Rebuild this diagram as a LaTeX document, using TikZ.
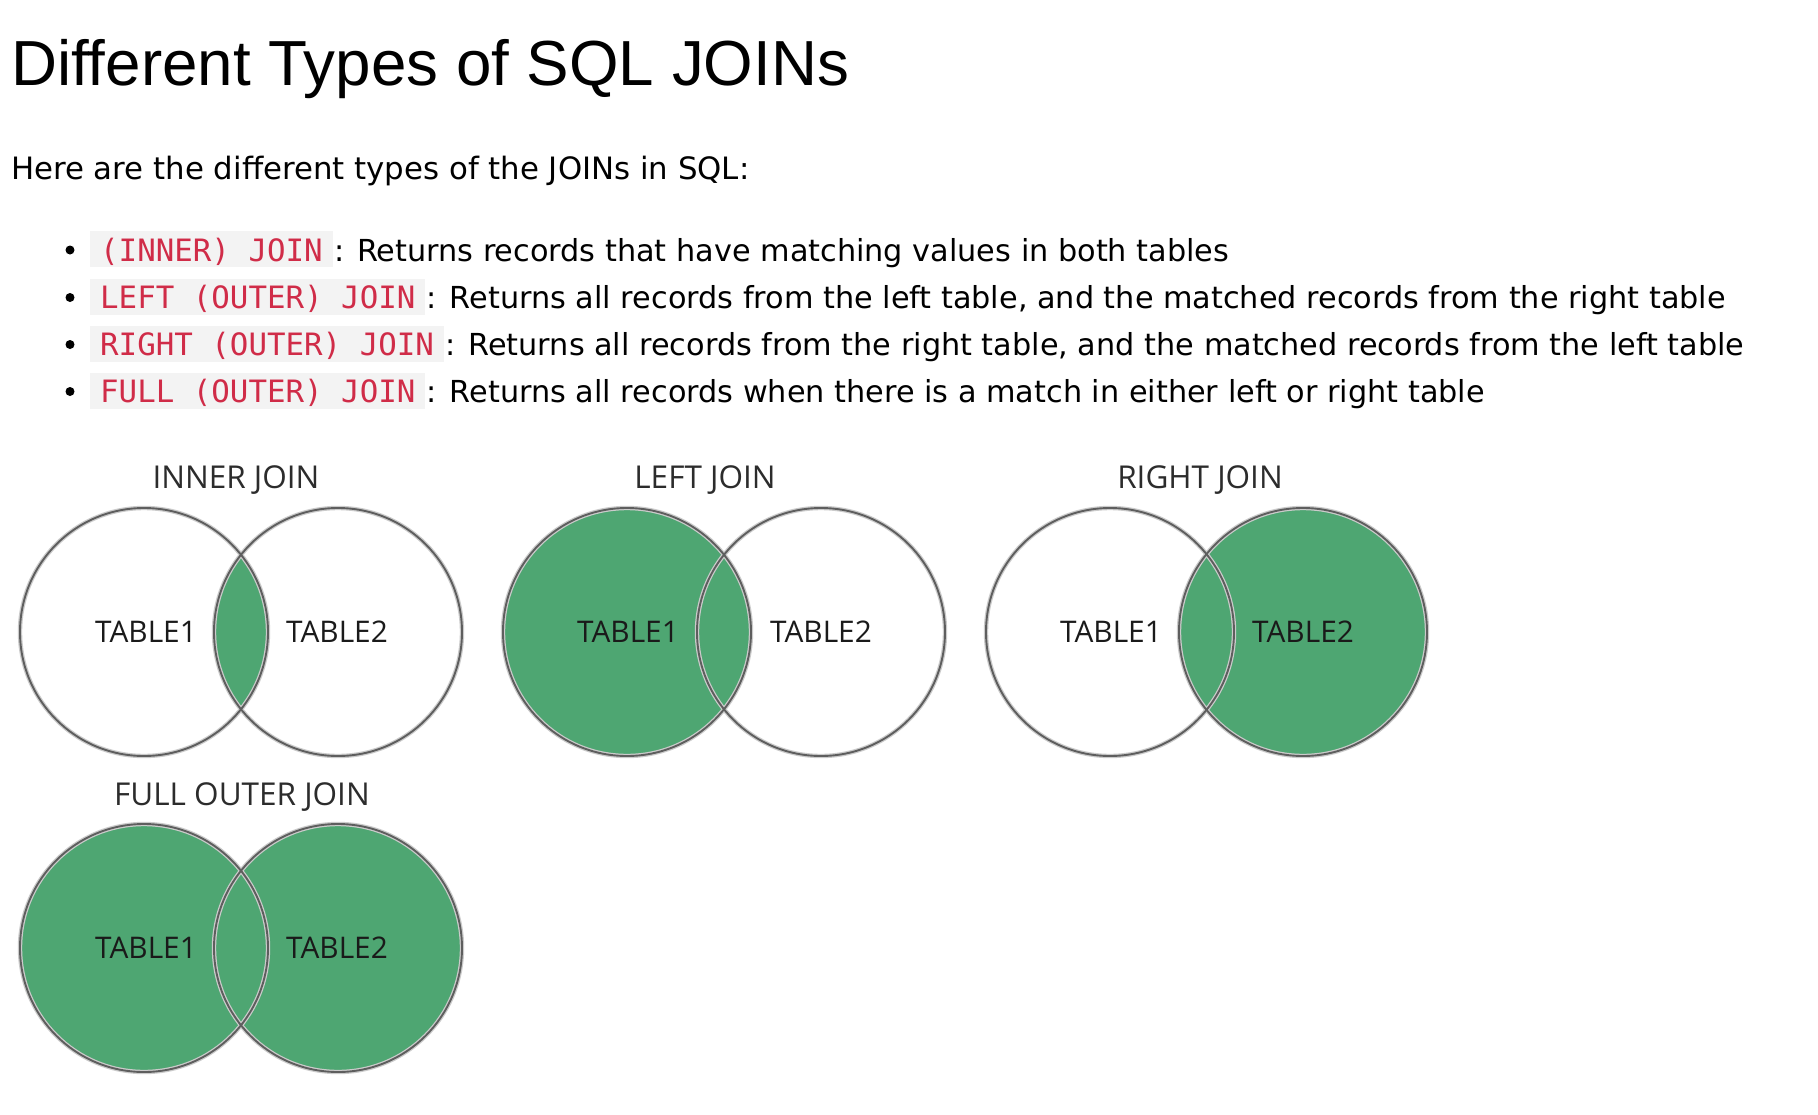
\documentclass[tikz,border=0pt]{standalone}
\usepackage{fontspec}
\setmainfont{DejaVu Sans}
\newfontfamily\titlefont{Liberation Sans}
\newfontfamily\codefont{DejaVu Sans Mono}
\newfontfamily\vennfont{Open Sans}
\definecolor{joingreen}{HTML}{4EA672}
\definecolor{codered}{HTML}{D02C48}
\definecolor{codebg}{HTML}{F3F3F3}
\definecolor{ringgray}{HTML}{5E5E5E}
\definecolor{halogray}{HTML}{CBCBCB}
\definecolor{venntext}{HTML}{1A1A1A}
\tikzset{
  codebox/.style={fill=codebg, text=codered, anchor=west, inner xsep=10pt, inner ysep=3pt,
    text height=27pt, text depth=3pt, font=\codefont\fontsize{30.8pt}{36pt}\selectfont},
  desc/.style={anchor=base west, inner sep=0pt, text=black, font=\fontsize{30.3pt}{36pt}\selectfont},
  bulletdot/.style={circle, fill=black, inner sep=0pt, minimum size=9pt},
  venntitle/.style={anchor=base, inner sep=0pt, text=venntext!92!white, font=\vennfont\fontsize{31.5pt}{36pt}\selectfont},
  tablelabel/.style={anchor=base, inner sep=0pt, text=venntext, font=\vennfont\fontsize{29.8pt}{36pt}\selectfont},
  halo/.style={draw=halogray, line width=4.4pt},
  ring/.style={draw=ringgray, line width=1.9pt},
}
\newcommand{\vennrings}[2]{%
  \draw[halo] (#1) circle (124);
  \draw[halo] (#2) circle (124);
  \draw[ring] (#1) circle (124);
  \draw[ring] (#2) circle (124);
}
\begin{document}
\begin{tikzpicture}[x=1pt, y=-1pt]
\useasboundingbox[fill=white] (0,0) rectangle (1818,1114);

% heading
\node[anchor=base west, inner sep=0pt, font=\titlefont\fontsize{63.7pt}{70pt}\selectfont] (title) at (11,85) {Different Types of SQL JOINs};
\node[desc, font=\fontsize{30.8pt}{36pt}\selectfont] (intro) at (11,179) {Here are the different types of the JOINs in SQL:};

% bullet list
\node[bulletdot] (b1) at (70,250) {};
\node[codebox] (c1) at (90,249) {(INNER) JOIN};
\node[desc] (t1) at ([xshift=1pt]c1.base east) {: Returns records that have matching values in both tables};

\node[bulletdot] (b2) at (70,297.5) {};
\node[codebox] (c2) at (90,296.5) {LEFT (OUTER) JOIN};
\node[desc] (t2) at ([xshift=1pt]c2.base east) {: Returns all records from the left table, and the matched records from the right table};

\node[bulletdot] (b3) at (70,344.5) {};
\node[codebox] (c3) at (90,343.5) {RIGHT (OUTER) JOIN};
\node[desc] (t3) at ([xshift=1pt]c3.base east) {: Returns all records from the right table, and the matched records from the left table};

\node[bulletdot] (b4) at (70,391.5) {};
\node[codebox] (c4) at (90,390.5) {FULL (OUTER) JOIN};
\node[desc] (t4) at ([xshift=1pt]c4.base east) {: Returns all records when there is a match in either left or right table};

% circle centres
\coordinate (i1) at (144,632);  \coordinate (i2) at (338,632);
\coordinate (l1) at (627,632);  \coordinate (l2) at (821,632);
\coordinate (r1) at (1110,632); \coordinate (r2) at (1303,632);
\coordinate (f1) at (144,948);  \coordinate (f2) at (338,948);

% INNER JOIN
\begin{scope}
  \clip (i1) circle (124);
  \fill[joingreen] (i2) circle (124);
\end{scope}
\vennrings{i1}{i2}
\node[venntitle] (ti) at (236,488) {INNER JOIN};
\node[tablelabel] (i1t) at (146,642) {TABLE1};
\node[tablelabel] (i2t) at (337,642) {TABLE2};

% LEFT JOIN
\fill[joingreen] (l1) circle (124);
\vennrings{l1}{l2}
\node[venntitle] (tl) at (705,488) {LEFT JOIN};
\node[tablelabel] (l1t) at (628,642) {TABLE1};
\node[tablelabel] (l2t) at (821,642) {TABLE2};

% RIGHT JOIN
\fill[joingreen] (r2) circle (124);
\vennrings{r1}{r2}
\node[venntitle] (tr) at (1200,488) {RIGHT JOIN};
\node[tablelabel] (r1t) at (1111,642) {TABLE1};
\node[tablelabel] (r2t) at (1303,642) {TABLE2};

% FULL OUTER JOIN
\fill[joingreen] (f1) circle (124);
\fill[joingreen] (f2) circle (124);
\vennrings{f1}{f2}
\node[venntitle] (tf) at (242,805) {FULL OUTER JOIN};
\node[tablelabel] (f1t) at (146,958) {TABLE1};
\node[tablelabel] (f2t) at (337,958) {TABLE2};
\end{tikzpicture}
\end{document}
